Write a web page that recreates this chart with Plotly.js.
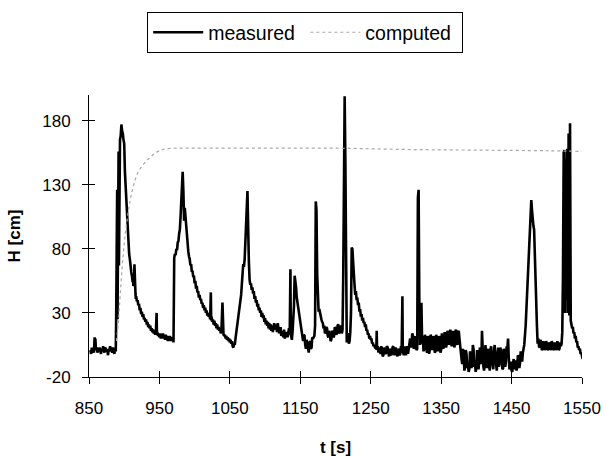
<!DOCTYPE html>
<html>
<head>
<meta charset="utf-8">
<script src="https://cdn.plot.ly/plotly-3.0.1.min.js"></script>
<style>html,body{margin:0;padding:0;background:#fff;}#chart{width:606px;height:457px;}</style>
</head>
<body>
<div id="chart"></div>
<script>
// measured water level: [t (s), H (cm)] pairs, in segments
const measuredStart = [
[852,1],[853,-2],[854,3],[855,0],[856,2],[857,-1],[858,11],[858.5,4],[859,10],[860,1],[861,3],[862,-1],[863,2],[864,0],[865,3],[866,1],[867,-2],[868,2],[869,0],[870,4],[871,1],[872,-1],[873,3],[874,2],[875,0],[876,1],[877,-3],[878,2],[879,1],[880,4],[881,0],[882,2],[883,-1],[884,3],[885,1],[886,-2],[887,2],[888,0]
];
const measuredPeak1 = [
[888.5,22],[889,120],[889.5,60],[890,126],[890.5,25],[891,150],[891.5,100],[892,156],[892.5,67],[893,155],[893.5,120],[894,165],[895,168],[896,177],[897,172],[898,170],[899,165],[900,162],[901,140],[902,128],[902.5,118],[903,112],[904,101],[904.5,96],[905,92],[906,84],[906.5,80],[907,76],[908,72],[908.5,67],[909,68],[910,62],[910.5,60],[911,59],[912,54],[912.5,57],[913,51],[914,52],[914.5,68],[915,47],[916,45],[916.5,41],[917,43],[918,39],[919,40],[920,36],[921,37],[922,32],[923,34],[924,29],[925,31],[926,27],[927,29],[928,25],[929,26],[930,23],[931,25],[932,21],[933,23],[934,19],[935,21],[936,18],[937,20],[938,16],[939,18],[940,15],[941,17],[942,14],[943,16],[944,13],[945,15],[946,30],[946.5,13],[947,15],[948,12],[949,14],[950,11],[951,14],[952,10],[953,13],[954,11],[955,14],[956,10],[957,12],[958,9],[959,13],[960,10],[961,12],[962,8],[963,11],[964,9],[965,12],[966,8],[967,11],[968,8],[969,10],[970,7]
];
const measuredPeak2 = [
[970.5,60],[971,73],[972,76],[973,75],[974,80],[975,79],[976,85],[977,86],[978,92],[979,95],[980,105],[981,118],[982,130],[983,140],[984,125],[985,102],[986,112],[987,104],[988,101],[989,96],[990,84],[991,78],[992,74],[993,72],[994,67],[995,68],[996,62],[997,63],[998,58],[999,59],[1000,53],[1001,55],[1002,49],[1003,51],[1004,46],[1005,47],[1006,42],[1007,44],[1008,40],[1009,41],[1010,37],[1011,38],[1012,34],[1013,36],[1014,32],[1015,34],[1016,30],[1017,32],[1018,28],[1019,30],[1020,27],[1021,29],[1022,25],[1023,46],[1023.5,24],[1024,27],[1025,23],[1026,25],[1027,21],[1028,24],[1029,20],[1030,22],[1031,18],[1032,21],[1033,17],[1034,19],[1035,16],[1036,18],[1037,14],[1038,16],[1039.5,38],[1040,14],[1041,13],[1042,12],[1043,13],[1044,10],[1045,12],[1046,9],[1047,11],[1048,8],[1049,10],[1050,7],[1051,9],[1052,6],[1053,8],[1054,4],[1055,3],[1056,6],[1057,5]
];
const measuredPeak3 = [
[1058,10],[1059,14],[1060,18],[1061,22],[1062,26],[1063,28],[1064,32],[1065,38],[1066,44],[1067,52],[1068,62],[1069,68],[1070,66],[1071,72],[1072,85],[1073,100],[1074,112],[1075,125],[1075.5,110],[1076,90],[1077,70],[1078,56],[1079,52],[1080,53],[1081,48],[1082,50],[1083,45],[1084,47],[1085,41],[1086,43],[1087,38],[1088,40],[1089,35],[1090,37],[1091,32],[1092,34],[1093,30],[1094,32],[1095,27],[1096,30],[1097,26],[1098,28],[1099,23],[1100,26],[1101,21],[1102,24],[1103,20],[1104,23],[1105,18],[1106,22],[1107,17],[1108,21],[1109,16],[1110,20],[1111,15],[1112,19],[1113,22],[1114,17],[1116,21],[1117,15],[1118,22],[1120,14],[1122,19],[1123,12],[1124,16],[1126,11],[1127,17],[1128,10],[1130,15],[1132,11],[1134,18],[1135,13]
];
const measuredMiddle = [
[1136,64],[1136.5,14],[1138,9],[1139,15],[1140,22],[1141,35],[1142,59],[1143,56],[1144,50],[1145,42],[1146,38],[1147,36],[1148,30],[1149,26],[1150,20],[1151,17],[1152,14],[1153,10],[1154,8],[1155,13],[1156,12],[1157,5],[1158,2],[1159,9],[1160,6],[1161,0],[1162,-1],[1163,7],[1164,8],[1165,2],[1166,3],[1167,11],[1168,10],[1170,12],[1171,20],[1172,117],[1173,110],[1174,60],[1175,35],[1176,31],[1177,33],[1178,29],[1179,27],[1180,25],[1181,23],[1182,22],[1183,18],[1184,20],[1185,14],[1186,15],[1187,19],[1188,18],[1189,12],[1190,11],[1191,16],[1192,14],[1193,8],[1194,9],[1195,15],[1196,16],[1197,11],[1198,12],[1199,19],[1200,18],[1201,13],[1202,14],[1203,20],[1204,21],[1205,14],[1206,15],[1207,20],[1208,19],[1209,14],[1210,17],[1211,60],[1212,198],[1213,199],[1214,150],[1215,20],[1216,7],[1217,14],[1218,12],[1219,6],[1220,8],[1221,15],[1222,30],[1223,81],[1224,80],[1225,70],[1226,55],[1227,52],[1228,44],[1229,47],[1230,40],[1231,42],[1232,36],[1233,38],[1234,31],[1235,33],[1236,27],[1237,29],[1238,24],[1239,26],[1240,22],[1241,23],[1242,19],[1243,21],[1244,16],[1245,17],[1246,13],[1247,14],[1248,10],[1249,12],[1250,9],[1251,10],[1252,6],[1253,7],[1254,4],[1255,5],[1256,3],[1258,2],[1258.5,16],[1259,1]
];
const measuredLow = [
[1260,4],[1261,-1],[1262,3],[1263,0],[1264,-2],[1265,4],[1266,2],[1267,-4],[1268,-3],[1269,3],[1270,1],[1271,-2],[1272,-1],[1273,4],[1274,3],[1275,-3],[1276,-4],[1277,2],[1278,1],[1279,-3],[1280,-2],[1281,3],[1282,4],[1283,-1],[1284,-3],[1285,3],[1286,2],[1287,-2],[1288,-4],[1289,2],[1290,1],[1291,-3],[1292,-2],[1293,4],[1294,3],[1295,43],[1295.5,0],[1297,-3],[1298,2],[1299,4],[1300,-3],[1301,1],[1302,4],[1303,-2],[1304,1],[1305,5],[1306,10],[1307,3],[1308,6],[1309,14],[1310,12],[1311,2],[1312,4],[1313,12],[1314,9],[1315,1],[1316,2],[1317,120],[1318,126],[1319,40],[1320,5],[1321,10],[1322,38],[1323,6],[1324,12],[1325,0],[1326,3],[1327,13],[1328,10],[1329,2],[1330,-1],[1331,12],[1332,8],[1333,-2],[1334,2],[1335,13],[1336,11],[1337,1],[1338,4],[1339,12],[1340,9],[1341,-1],[1342,0],[1343,13],[1344,10],[1345,0],[1346,3],[1347,12],[1348,8],[1349,-1],[1350,1],[1351,14],[1352,11],[1353,2],[1354,5],[1355,15],[1356,12],[1357,3],[1358,6],[1359,16],[1360,13],[1361,5],[1362,15],[1363,17],[1364,8],[1365,4],[1366,12],[1367,16],[1368,6],[1369,3],[1370,14],[1371,17],[1372,9],[1373,5],[1374,15],[1375,16],[1376,10],[1377,2],[1378,-4],[1379,-6],[1380,-10],[1381,2],[1382,-3],[1383,-15],[1384,-12],[1385,1],[1386,-2],[1387,-13],[1388,-9],[1389,-16],[1390,-14],[1391,0],[1392,-4],[1393,-13],[1394,-10],[1395,5],[1396,2],[1397,-12],[1398,-8],[1399,-16],[1400,-13],[1401,1],[1402,-3],[1403,-14],[1404,-9],[1405,3],[1406,0],[1407,-10],[1408,16],[1409,-6],[1410,-12],[1411,-15],[1412,3],[1413,5],[1414,-8],[1415,-13],[1416,-2],[1417,2],[1418,-11],[1419,-15],[1420,1],[1421,4],[1422,-7],[1423,-12],[1424,-14],[1425,0],[1426,5],[1427,-5],[1428,-10],[1429,-15],[1430,-2],[1431,3],[1432,-12],[1433,-9],[1434,3],[1435,1],[1436,-6],[1437,-14],[1438,-13],[1439,2],[1440,-1],[1441,-12],[1442,-8],[1443,4],[1444,2],[1445,10],[1446,-5],[1447,-14],[1448,-12],[1449,-8],[1450,-15],[1451,-16],[1452,-10],[1453,-6],[1454,-14],[1455,-11],[1456,-7],[1457,-15],[1458,-12],[1459,-3],[1460,-5],[1461,-13],[1462,-9],[1463,0],[1464,-3],[1465,-8],[1466,-1],[1467,2],[1468,5]
];
const measuredEnd = [
[1470,20],[1472,45],[1474,78],[1475,88],[1476,95],[1477,105],[1478,118],[1479,110],[1480,100],[1481,98],[1482,95],[1483,70],[1484,50],[1485,46],[1486,20],[1487,6],[1488,10],[1489,4],[1490,3],[1491,9],[1492,7],[1493,1],[1494,2],[1495,8],[1496,5],[1497,1],[1498,3],[1499,8],[1500,6],[1501,1],[1502,2],[1503,7],[1504,5],[1505,1],[1506,3],[1507,8],[1508,6],[1509,1],[1510,2],[1511,7],[1512,4],[1513,1],[1514,3],[1515,8],[1516,5],[1517,1],[1518,2],[1519,7],[1520,4],[1521,6],[1522,15],[1523,60],[1524,155],[1525,157],[1526,30],[1527,150],[1528,40],[1529,158],[1530,30],[1531,170],[1532,28],[1533,178],[1534,24],[1535,22],[1536,18],[1537,19],[1538,14],[1539,15],[1540,10],[1541,12],[1542,7],[1543,8],[1544,3],[1545,4],[1546,1],[1547,2],[1548,-2],[1549,-1],[1550,-4],[1551,-6]
];

// computed water level
const computedT = [889,892,895,898,901,906,910,915,920,929,938,948,960,1000,1100,1200,1300,1400,1500,1550];
const computedH = [8,25,50,72,89,110,122,133,140,147,152,156,158,158.5,158.5,158.5,157.5,157,156.5,156];

const xTicks = [850,950,1050,1150,1250,1350,1450,1550];
const yTicks = [-20,30,80,130,180];
const seriesNames = ['measured', 'computed'];

const measured = [].concat(measuredStart, measuredPeak1, measuredPeak2, measuredPeak3, measuredMiddle, measuredLow, measuredEnd);
const measuredT = measured.map(p => p[0]);
const measuredH = measured.map(p => p[1]);

const font = {family: 'Liberation Sans, Arial, sans-serif', size: 17, color: '#000'};

const traces = [
  {x: measuredT, y: measuredH, name: seriesNames[0] + '\u00a0', mode: 'lines', type: 'scatter',
   line: {color: '#000', width: 2.6}, xaxis: 'x', yaxis: 'y'},
  {x: computedT, y: computedH, name: seriesNames[1] + '\u00a0', mode: 'lines', type: 'scatter',
   line: {color: '#a8a8a8', width: 1.2, dash: 'dot', shape: 'spline'}, xaxis: 'x2', yaxis: 'y2'}
];

const axCommon = {showgrid: false, zeroline: false, color: '#000', linecolor: '#000', linewidth: 1,
                  tickcolor: '#000', tickwidth: 1, ticklen: 6, automargin: false};

const layout = {
  width: 606, height: 457,
  margin: {l: 89, r: 24, t: 93, b: 80},
  paper_bgcolor: '#fff', plot_bgcolor: '#fff',
  font: font,
  showlegend: true,
  legend: {orientation: 'h', x: 0.118, xanchor: 'left', y: 1.294, yanchor: 'top',
           bordercolor: '#000', borderwidth: 1, bgcolor: '#fff',
           font: {family: font.family, size: 19.5, color: '#000'}, itemwidth: 50},
  xaxis: Object.assign({}, axCommon, {range: [850, 1550], tickvals: xTicks, ticktext: xTicks.map(String),
           ticks: 'outside', showline: true, tickfont: font, ticklabelstandoff: 10,
           title: {text: '<b>t [s]</b>', font: {family: font.family, size: 17, color: '#000'}, standoff: 30}}),
  yaxis: Object.assign({}, axCommon, {range: [-20, 200], tickvals: yTicks, ticktext: yTicks.map(String),
           ticks: 'outside', showline: true, tickfont: font, ticklabelstandoff: 8,
           title: {text: '<b>H [cm]</b>', font: {family: font.family, size: 17, color: '#000'}, standoff: 17}}),
  xaxis2: Object.assign({}, axCommon, {range: [850, 1550], tickvals: xTicks, ticks: 'inside', showticklabels: false,
           overlaying: 'x', anchor: 'y2', side: 'bottom', showline: false}),
  yaxis2: Object.assign({}, axCommon, {range: [-20, 200], tickvals: yTicks, ticks: 'inside', showticklabels: false,
           overlaying: 'y', anchor: 'x2', side: 'left', showline: false})
};

Plotly.newPlot('chart', traces, layout, {displayModeBar: false, staticPlot: true});
</script>
</body>
</html>
